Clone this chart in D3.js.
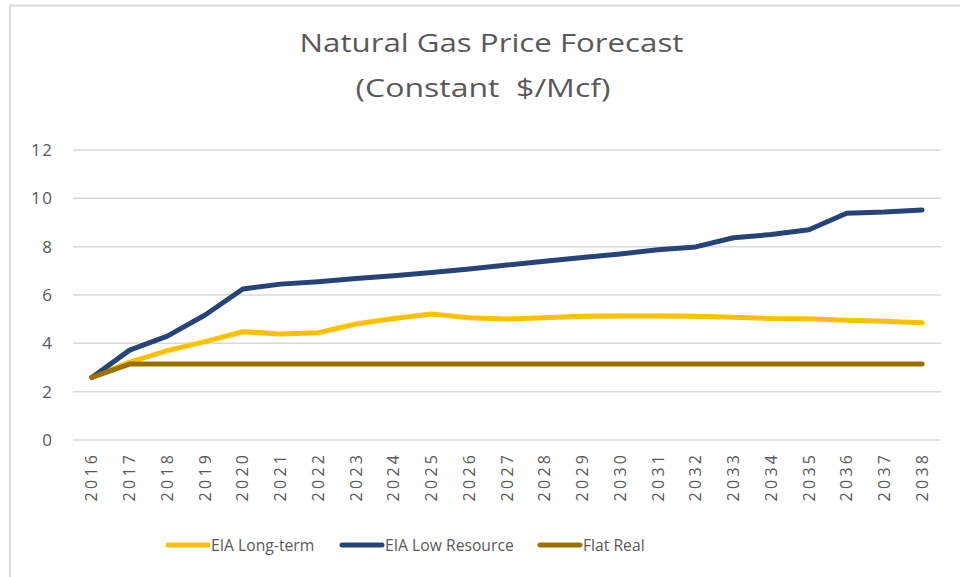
<!DOCTYPE html>
<html>
<head>
<meta charset="utf-8">
<script src="https://cdn.jsdelivr.net/npm/d3@7"></script>
<style>
  html, body { margin: 0; padding: 0; background: #fff; }
  svg { display: block; }
  text { font-family: "Open Sans", "Noto Sans", sans-serif; fill: #595959; }
</style>
</head>
<body>
<svg id="chart" width="960" height="577"></svg>
<script>
const years = ["2016","2017","2018","2019","2020","2021","2022","2023","2024","2025","2026","2027","2028","2029","2030","2031","2032","2033","2034","2035","2036","2037","2038"];
const eiaLongTerm = [2.59,3.22,3.70,4.07,4.48,4.39,4.44,4.80,5.03,5.21,5.06,5.01,5.06,5.12,5.13,5.13,5.12,5.08,5.03,5.02,4.96,4.91,4.85];
const eiaLowResource = [2.59,3.72,4.30,5.17,6.25,6.45,6.55,6.68,6.80,6.93,7.08,7.24,7.40,7.55,7.70,7.87,7.99,8.37,8.50,8.70,9.38,9.43,9.52];
const flatReal = [2.59,3.14,3.14,3.14,3.14,3.14,3.14,3.14,3.14,3.14,3.14,3.14,3.14,3.14,3.14,3.14,3.14,3.14,3.14,3.14,3.14,3.14,3.14];
const yTicks = [0,2,4,6,8,10,12];
const seriesNames = ["EIA Long-term","EIA Low Resource","Flat Real"];
const seriesColors = ["#FFC000","#264478","#997300"];

const series = [eiaLongTerm, eiaLowResource, flatReal].map((v,i)=>({name: seriesNames[i], color: seriesColors[i], values: v}));

const svg = d3.select("#chart");

// chart border (top and left visible)
svg.append("line").attr("x1",10).attr("x2",960).attr("y1",5.5).attr("y2",5.5).attr("stroke","#d9d9d9").attr("stroke-width",2);
svg.append("line").attr("x1",10).attr("x2",10).attr("y1",5).attr("y2",577).attr("stroke","#d9d9d9").attr("stroke-width",2);

const x = d3.scaleBand().domain(years).range([73, 941]);
const y = d3.scaleLinear().domain([0,12]).range([440, 150]);

// gridlines
svg.append("g").selectAll("line").data(yTicks).join("line")
  .attr("x1",73).attr("x2",941)
  .attr("y1",d=>y(d)).attr("y2",d=>y(d))
  .attr("stroke","#d9d9d9").attr("stroke-width",1.5);

// y axis
const yAxis = svg.append("g").attr("transform","translate(73,0)")
  .call(d3.axisLeft(y).tickValues(yTicks).tickSize(0).tickPadding(19.5).tickFormat(d3.format("d")));
yAxis.select(".domain").remove();
yAxis.selectAll("text").style("font-size","17px").style("letter-spacing","1.5px").attr("fill","#595959");

// x axis
const xAxis = svg.append("g").attr("transform","translate(0,440)")
  .call(d3.axisBottom(x).tickSize(0));
xAxis.select(".domain").remove();
xAxis.selectAll("text")
  .style("font-size","16px").style("letter-spacing","3.3px").attr("fill","#595959")
  .attr("transform","rotate(-90)")
  .attr("text-anchor","end")
  .attr("x",-11.7).attr("y",0).attr("dy","0.35em");

// lines
const line = d3.line().x((d,i)=>x(years[i]) + x.bandwidth()/2).y(d=>y(d));
svg.append("g").selectAll("path").data(series).join("path")
  .attr("d", d=>line(d.values))
  .attr("fill","none")
  .attr("stroke", d=>d.color)
  .attr("stroke-width",5)
  .attr("stroke-linejoin","round")
  .attr("stroke-linecap","round");

// title (glyphs widened horizontally to match the reference proportions)
svg.append("g").attr("transform","translate(491.5,52) scale(1.25,1)")
  .append("text").attr("text-anchor","middle")
  .style("font-size","25px").text("Natural Gas Price Forecast");
svg.append("g").attr("transform","translate(483,97) scale(1.28,1)")
  .append("text").attr("text-anchor","middle")
  .style("font-size","25px")
  .attr("xml:space","preserve").style("white-space","pre").text("(Constant  $/Mcf)");

// legend
const legendX = [168, 342, 540];
const lg = svg.append("g").selectAll("g").data(series).join("g")
  .attr("transform",(d,i)=>`translate(${legendX[i]},545)`);
lg.append("line").attr("x1",0).attr("x2",40).attr("y1",0).attr("y2",0)
  .attr("stroke",d=>d.color).attr("stroke-width",5).attr("stroke-linecap","round");
lg.append("text").attr("x",43).attr("y",0).attr("dy","0.35em")
  .style("font-size","15.7px").text(d=>d.name);
</script>
</body>
</html>
